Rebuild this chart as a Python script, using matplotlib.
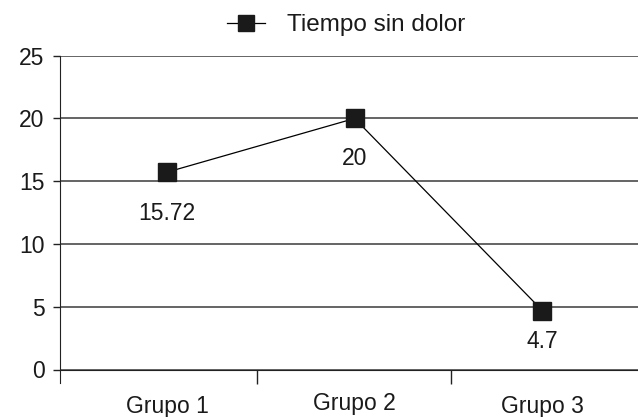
import matplotlib
matplotlib.use("Agg")
import matplotlib.pyplot as plt

categories = ["Grupo 1", "Grupo 2", "Grupo 3"]
values = [15.72, 20, 4.7]
value_labels = ["15.72", "20", "4.7"]
series_name = "Tiempo sin dolor"
yticks = [0, 5, 10, 15, 20, 25]

plt.rcParams['font.family'] = ['Liberation Sans', 'DejaVu Sans']
FS = 16.5
TXT = '#1a1a1a'

fig = plt.figure(figsize=(6.38, 4.17), dpi=100)
ax = fig.add_axes([0.094, 1 - 369.5 / 417, 0.906, (369.5 - 55.7) / 417])

x = list(range(len(categories)))
line, = ax.plot(x, values, color='black', linewidth=0.9, marker='s',
                markersize=13, markerfacecolor='#1a1a1a', markeredgecolor='#1a1a1a',
                label=series_name, zorder=3)

offsets = [(0, -29.5), (0, -29), (0, -22.5)]
for xi, v, lab, off in zip(x, values, value_labels, offsets):
    ax.annotate(lab, (xi, v), xytext=off, textcoords='offset points',
                ha='center', va='center', fontsize=FS, color=TXT)

ax.set_ylim(0, 25)
ax.set_xlim(-0.57, 2.51)
ax.set_yticks(yticks)
ax.set_yticklabels([str(t) for t in yticks])
ax.yaxis.grid(True, color='#4a4a4a', linewidth=1.2)
ax.set_axisbelow(True)

ax.set_xticks([0.48, 1.515])
ax.set_xticklabels([])
ax.tick_params(axis='x', length=10, width=1, color='#222222', direction='out')
ax.tick_params(axis='y', length=5, width=1, color='#222222', pad=6,
               labelsize=FS, labelcolor=TXT)
for i, c in enumerate(categories):
    dy = -31.5 if i % 2 == 0 else -29
    ax.annotate(c, (i, 0), xycoords='data', xytext=(0, dy),
                textcoords='offset points', ha='center', va='baseline',
                fontsize=FS, color=TXT, annotation_clip=False)

for s in ['top', 'right']:
    ax.spines[s].set_visible(False)
ax.spines['left'].set_color('#222222')
ax.spines['bottom'].set_color('#222222')
ax.spines['left'].set_bounds(-1.1, 25)

leg = fig.legend(handles=[line], loc='center left',
                 bbox_to_anchor=(227 / 638, 1 - 25 / 417),
                 frameon=False, fontsize=17.5, handlelength=1.55, handletextpad=0.9,
                 borderpad=0, borderaxespad=0, markerscale=0.85)
for t in leg.get_texts():
    t.set_color(TXT)

fig.savefig("out.png", dpi=100)
